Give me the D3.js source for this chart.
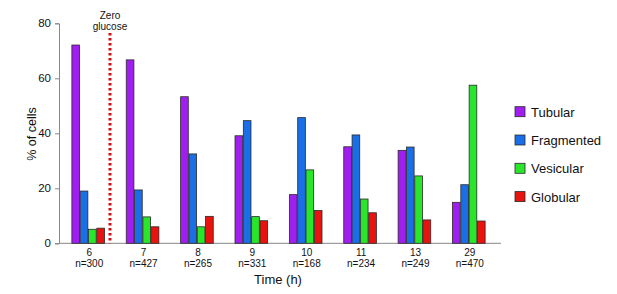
<!DOCTYPE html>
<html>
<head>
<meta charset="utf-8">
<script src="https://cdn.jsdelivr.net/npm/d3@7"></script>
<style>
  body { margin: 0; background: #fff; }
  text { font-family: "Liberation Sans", Arial, sans-serif; fill: #111; }
</style>
</head>
<body>
<div id="chart"></div>
<script>
// data
var times = ["6", "7", "8", "9", "10", "11", "13", "29"];
var counts = ["n=300", "n=427", "n=265", "n=331", "n=168", "n=234", "n=249", "n=470"];
var series = ["Tubular", "Fragmented", "Vesicular", "Globular"];
var tubular    = [72.1, 66.7, 53.3, 39.1, 17.7, 35.1, 33.8, 14.9];
var fragmented = [19.0, 19.4, 32.5, 44.6, 45.7, 39.4, 35.0, 21.3];
var vesicular  = [5.1, 9.6, 6.0, 9.7, 26.7, 16.1, 24.5, 57.5];
var globular   = [5.5, 6.0, 9.8, 8.2, 11.9, 11.1, 8.5, 8.1];
var yTicks = [0, 20, 40, 60, 80];

var colors = ["#a01ff0", "#1a6fe6", "#2ae62a", "#e8130f"];
var values = [tubular, fragmented, vesicular, globular];

var width = 617, height = 294;

var svg = d3.select("#chart").append("svg")
  .attr("width", width)
  .attr("height", height);

var y = d3.scaleLinear()
  .domain([0, 80])
  .range([243.3, 23.3]);

var x0 = d3.scaleBand()
  .domain(times)
  .range([61, 496])
  .paddingInner(0.4)
  .paddingOuter(0.2);

var x1 = d3.scaleBand()
  .domain(series)
  .range([0, x0.bandwidth()])
  .paddingInner(0.08);

// y axis
var yAxis = svg.append("g")
  .attr("transform", "translate(59,0)")
  .call(d3.axisLeft(y).tickValues(yTicks).tickSize(4).tickPadding(4));
yAxis.selectAll("path, line").attr("stroke", "#888");
yAxis.selectAll("text").style("font-size", "11.5px").style("font-family", "Liberation Sans, Arial, sans-serif");

// x axis line
svg.append("line")
  .attr("x1", 59).attr("x2", 501)
  .attr("y1", y(0)).attr("y2", y(0))
  .attr("stroke", "#888");

// bars
var groups = svg.selectAll("g.grp")
  .data(times)
  .join("g")
    .attr("class", "grp")
    .attr("transform", d => `translate(${x0(d)},0)`);

groups.selectAll("rect")
  .data((d, i) => series.map((s, j) => ({ s: s, v: values[j][i], c: colors[j] })))
  .join("rect")
    .attr("x", d => x1(d.s))
    .attr("y", d => y(d.v))
    .attr("width", x1.bandwidth())
    .attr("height", d => y(0) - y(d.v))
    .attr("fill", d => d.c)
    .attr("stroke", "#2a2a2a")
    .attr("stroke-width", 0.8);

// category labels
var lab = svg.append("g").selectAll("g")
  .data(times)
  .join("g")
    .attr("transform", d => `translate(${x0(d) + x0.bandwidth() / 2 + 1},0)`);
lab.append("text")
  .attr("y", 255.5)
  .attr("text-anchor", "middle")
  .style("font-size", "10px")
  .text(d => d);
lab.append("text")
  .attr("y", 267)
  .attr("text-anchor", "middle")
  .style("font-size", "10px")
  .text((d, i) => counts[i]);

// axis titles
svg.append("text")
  .attr("x", 278).attr("y", 284)
  .attr("text-anchor", "middle")
  .style("font-size", "13px")
  .text("Time (h)");

svg.append("text")
  .attr("transform", "translate(36,134) rotate(-90)")
  .attr("text-anchor", "middle")
  .style("font-size", "12.5px")
  .text("% of cells");

// zero glucose marker
svg.append("line")
  .attr("x1", 110).attr("x2", 110)
  .attr("y1", 33).attr("y2", y(0))
  .attr("stroke", "#d01010")
  .attr("stroke-width", 3)
  .attr("stroke-dasharray", "2.5,2.5");
svg.append("text")
  .attr("x", 110).attr("y", 19)
  .attr("text-anchor", "middle")
  .style("font-size", "10px")
  .text("Zero");
svg.append("text")
  .attr("x", 110).attr("y", 30)
  .attr("text-anchor", "middle")
  .style("font-size", "10px")
  .text("glucose");

// legend
var leg = svg.append("g").selectAll("g")
  .data(series)
  .join("g")
    .attr("transform", (d, i) => `translate(515,${111.7 + i * 28.3})`);
leg.append("rect")
  .attr("x", 0).attr("y", -5)
  .attr("width", 10).attr("height", 10)
  .attr("fill", (d, i) => colors[i])
  .attr("stroke", "#2a2a2a")
  .attr("stroke-width", 0.8);
leg.append("text")
  .attr("x", 16).attr("y", 5)
  .style("font-size", "13px")
  .text(d => d);
</script>
</body>
</html>
